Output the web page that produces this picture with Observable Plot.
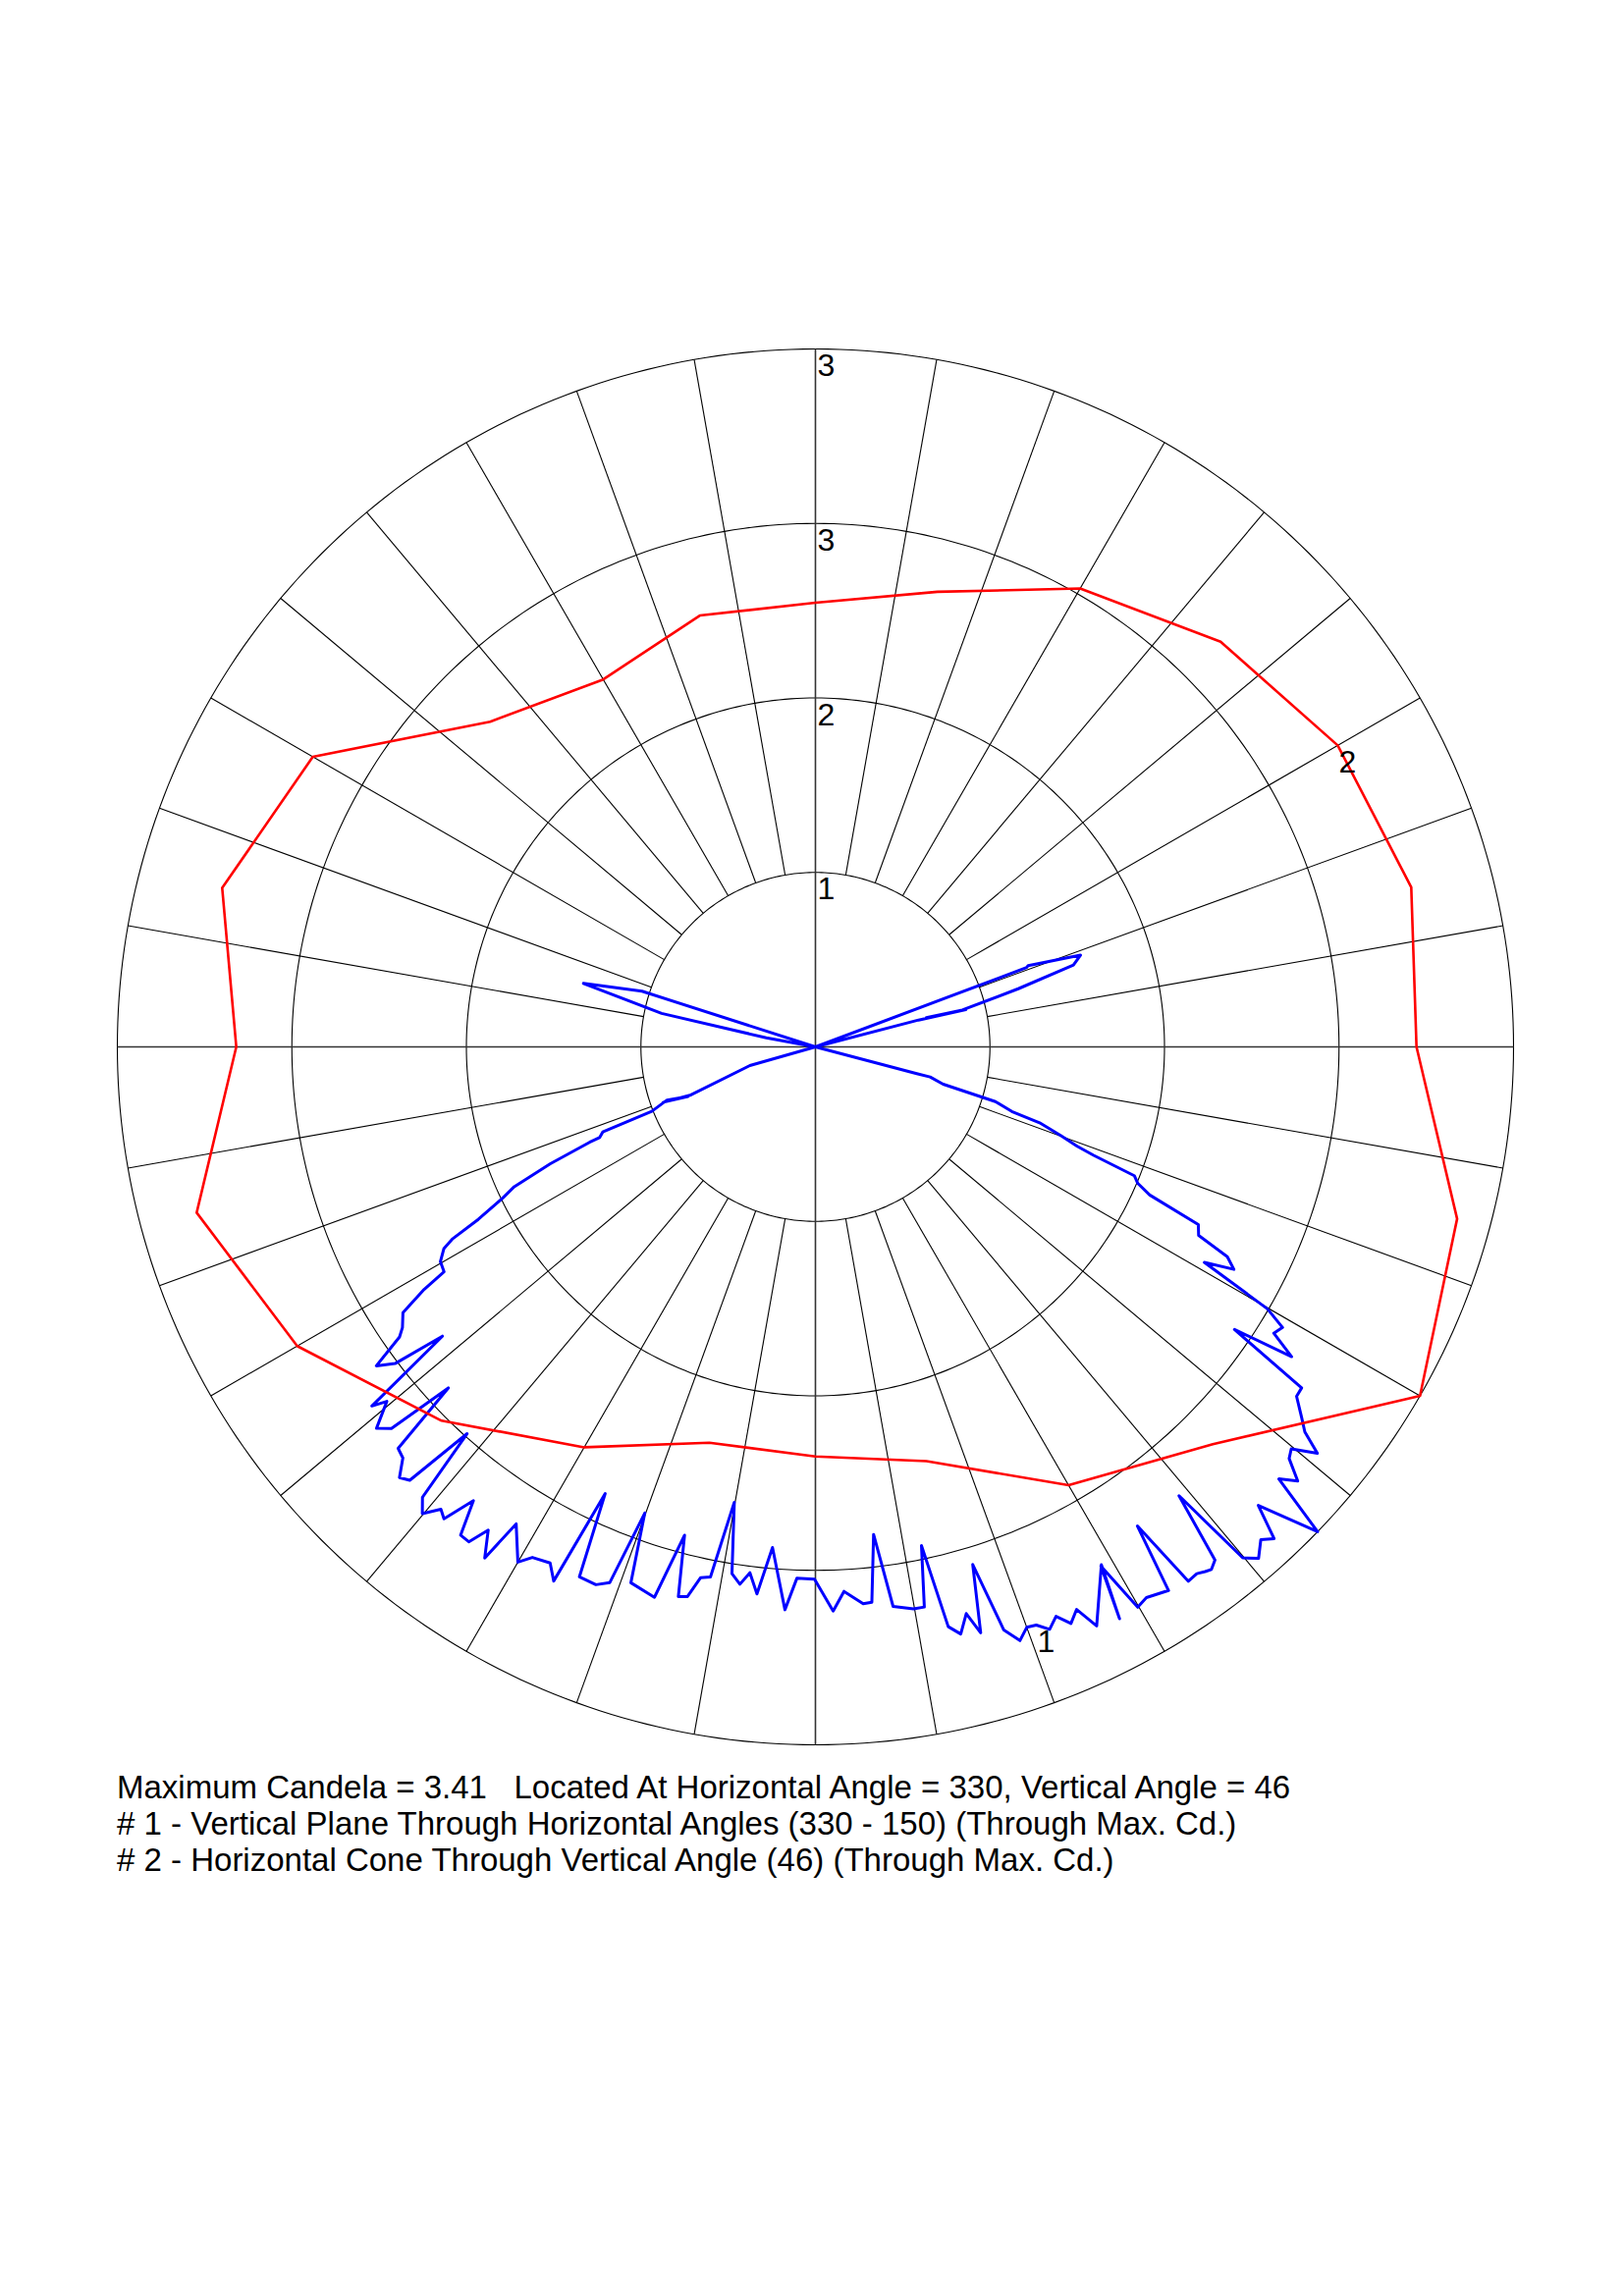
<!DOCTYPE html>
<html><head><meta charset="utf-8">
<script src="https://cdn.jsdelivr.net/npm/d3@7"></script>
<script src="https://cdn.jsdelivr.net/npm/@observablehq/plot@0.6"></script>
<style>
html,body{margin:0;padding:0;background:#fff;}
#wrap{position:relative;width:1654px;height:2339px;overflow:hidden;}
#chart svg{display:block;}
#caption{position:absolute;left:119px;top:1802px;font-family:"Liberation Sans",Arial,sans-serif;font-size:33px;line-height:37px;color:#000;white-space:pre;}
</style></head><body>
<div id="wrap"><div id="chart"></div><div id="caption"></div></div>
<script>
// ---- data ----
const maxCandela = 3.41;
const ringCount = 4;
const ringLabels = ["1", "2", "3", "3"];
const spokeStep = 10; // degrees

// #2 Horizontal cone through vertical angle 46 (horizontal angle, candela)
const redAngles = [0, 15, 30, 45, 60, 75, 90, 105, 120, 135, 150, 165, 180, 195, 210, 225, 240, 255, 270, 285, 300, 315, 330, 345];
const redValues = [2.936, 3.013, 2.946, 2.799, 2.586, 2.302, 2.17, 2.182, 2.073, 2.247, 2.835, 3.0, 2.829, 3.129, 2.923, 2.583, 2.259, 2.002, 2.001, 2.095, 2.473, 2.745, 3.41, 3.245];

// #1 Vertical plane through horizontal angles 330 - 150
// angle from nadir (negative: 150 side, positive: 330 side), candela
const blueAngles = [-109, -107.8, -105.3, -102.3, -100.5, -99, -75, -74.1, -68.9, -70.0, -68.7, -70.3, -68.5, -68.2, -67.2, -67.1, -66.2, -65.1, -64.2, -62.9, -62.1, -61.5, -60.2, -58.8, -58.2, -57.2, -55.8, -55.1, -54.0, -53.0, -52.2, -51.0, -50.4, -49.0, -48.0, -47.1, -46.1, -45.1, -44.0, -43.1, -42.0, -41.1, -40.1, -39.0, -38.2, -37.0, -36.0, -35.0, -34.1, -32.9, -32.1, -30.0, -29.0, -27.2, -26.1, -25.2, -24.0, -22.2, -21.0, -20.1, -19.0, -16.3, -15.0, -14.0, -13.1, -12.2, -11.2, -10.1, -9.0, -8.0, -7.1, -6.1, -4.9, -3.1, -2.0, -0.1, 1.8, 3.0, 4.9, 5.8, 6.8, 7.9, 9.9, 11.0, 12.0, 12.9, 13.9, 14.9, 15.75, 16.9, 17.9, 19.0, 20.0, 20.9, 21.9, 22.9, 23.9, 24.9, 25.9, 28.9, 28.0, 28.8, 29.9, 31.0, 33.0, 33.9, 34.9, 35.9, 36.6, 37.15, 37.9, 39.0, 39.9, 40.9, 42.1, 43.0, 44.0, 46.0, 47.0, 48.0, 49.0, 49.8, 51.0, 51.8, 52.7, 54.0, 54.95, 56.0, 56.95, 58.0, 59.0, 59.9, 61.0, 62.0, 63.0, 63.8, 65.1, 66.1, 67.05, 68.0, 68.7, 69.2, 70.1, 71.3, 71.8, 73.1, 73.7, 75.3, 75.2, 76, 104, 104.6, 103.9, 104.8, 104.1, 106.0, 107.6, 109.1, 110.9, 110.6, 111];
const blueValues = [0, 0.890, 1.175, 0.769, 0.244, 0, 0, 0.333, 0.652, 0.791, 0.668, 0.770, 0.859, 1.119, 1.144, 1.198, 1.415, 1.622, 1.696, 1.850, 2.008, 2.065, 2.111, 2.121, 2.249, 2.397, 2.439, 2.477, 2.651, 2.571, 2.306, 2.788, 2.717, 2.841, 2.787, 2.448, 2.829, 2.845, 2.925, 2.900, 2.543, 2.920, 2.981, 2.907, 2.934, 2.776, 2.949, 2.952, 2.851, 2.974, 2.751, 2.907, 2.852, 2.835, 2.906, 2.412, 2.834, 2.838, 2.804, 2.425, 2.769, 2.802, 2.470, 2.768, 2.757, 2.653, 2.640, 2.260, 2.606, 2.651, 2.589, 2.688, 2.455, 2.754, 2.598, 2.601, 2.758, 2.664, 2.731, 2.727, 2.399, 2.760, 2.787, 2.788, 2.491, 2.906, 2.955, 2.865, 2.974, 2.643, 2.994, 3.068, 3.018, 3.024, 3.067, 3.020, 3.081, 3.030, 3.145, 2.890, 3.164, 2.895, 3.158, 3.139, 3.167, 2.820, 3.183, 3.177, 3.193, 3.203, 3.177, 2.822, 3.254, 3.306, 3.245, 3.285, 3.114, 3.41, 3.095, 3.170, 3.066, 3.043, 3.155, 3.042, 2.985, 2.905, 2.901, 2.469, 2.775, 2.640, 2.662, 2.552, 2.172, 2.315, 2.258, 2.086, 2.062, 1.786, 1.710, 1.680, 1.459, 1.368, 1.276, 1.156, 1.010, 0.919, 0.650, 0.579, 0.512, 0, 0, 0.520, 0.757, 0.560, 0.740, 1.031, 1.322, 1.370, 1.112, 1.102, 0];

// curve labels: text, which curve, index of the point they sit at
const curveLabelTexts = ["1", "2"];
const blueLabelIndex = 93;   // blue point at 20.9 deg
const redLabelIndex = 2;     // red point at H = 30

const captionLines = [
  "Maximum Candela = 3.41   Located At Horizontal Angle = 330, Vertical Angle = 46",
  "# 1 - Vertical Plane Through Horizontal Angles (330 - 150) (Through Max. Cd.)",
  "# 2 - Horizontal Cone Through Vertical Angle (46) (Through Max. Cd.)"
];

// ---- layout ----
const W = 1654, H = 1790;
const cx = 830, cy = 1066, R = 711;
const FONT = "Liberation Sans, Arial, sans-serif";
const rad = d => d * Math.PI / 180;

// ---- derived geometry ----
const ringVals = d3.range(1, ringCount + 1).map(k => maxCandela * k / ringCount);
const ringPts = [];
ringVals.forEach((rv, i) => {
  for (let a = 0; a <= 360; a += 1) ringPts.push({ring: i, x: rv * Math.cos(rad(a)), y: rv * Math.sin(rad(a))});
});
const spokes = d3.range(0, 360, spokeStep).filter(a => a % 90 !== 0).map(a => ({
  x1: ringVals[0] * Math.cos(rad(a)), y1: ringVals[0] * Math.sin(rad(a)),
  x2: maxCandela * Math.cos(rad(a)), y2: maxCandela * Math.sin(rad(a))
}));
const axesLinks = [0, 90].map(a => ({
  x1: -maxCandela * Math.cos(rad(a)), y1: -maxCandela * Math.sin(rad(a)),
  x2: maxCandela * Math.cos(rad(a)), y2: maxCandela * Math.sin(rad(a))
}));
const ringLabelData = ringVals.map((v, i) => ({x: 0, y: v, t: ringLabels[i]}));

const redPts = redAngles.map((h, i) => ({x: redValues[i] * Math.cos(rad(h)), y: redValues[i] * Math.sin(rad(h))}));
redPts.push(redPts[0]);
const bluePts = blueAngles.map((t, i) => ({x: blueValues[i] * Math.sin(rad(t)), y: -blueValues[i] * Math.cos(rad(t))}));

const curveLabels = [
  {...bluePts[blueLabelIndex], t: curveLabelTexts[0]},
  {...redPts[redLabelIndex], t: curveLabelTexts[1]}
];

const chart = Plot.plot({
  width: W, height: H,
  marginTop: 0, marginRight: 0, marginBottom: 0, marginLeft: 0,
  x: {domain: [-maxCandela, maxCandela], range: [cx - R, cx + R], axis: null},
  y: {domain: [-maxCandela, maxCandela], range: [cy + R, cy - R], axis: null},
  style: {background: "white", overflow: "visible"},
  marks: [
    Plot.line(ringPts, {x: "x", y: "y", z: "ring", stroke: "#000", strokeWidth: 1.1}),
    Plot.link(spokes, {x1: "x1", y1: "y1", x2: "x2", y2: "y2", stroke: "#000", strokeWidth: 1.1}),
    Plot.link(axesLinks, {x1: "x1", y1: "y1", x2: "x2", y2: "y2", stroke: "#333", strokeWidth: 1.6}),
    Plot.line(bluePts, {x: "x", y: "y", stroke: "#0000ff", strokeWidth: 3, curve: "linear"}),
    Plot.line(redPts, {x: "x", y: "y", stroke: "#ff0000", strokeWidth: 2.6, curve: "linear"}),
    Plot.text(ringLabelData, {x: "x", y: "y", text: "t", textAnchor: "start", lineAnchor: "top", dx: 2, dy: 5, fontSize: 32, fontFamily: FONT, fill: "#000"}),
    Plot.text(curveLabels, {x: "x", y: "y", text: "t", textAnchor: "start", lineAnchor: "top", dx: 1, dy: 5, fontSize: 32, fontFamily: FONT, fill: "#000"})
  ]
});
document.getElementById("chart").appendChild(chart);
document.getElementById("caption").innerHTML = captionLines.map(s => `<div>${s}</div>`).join("");
</script>
</body></html>
